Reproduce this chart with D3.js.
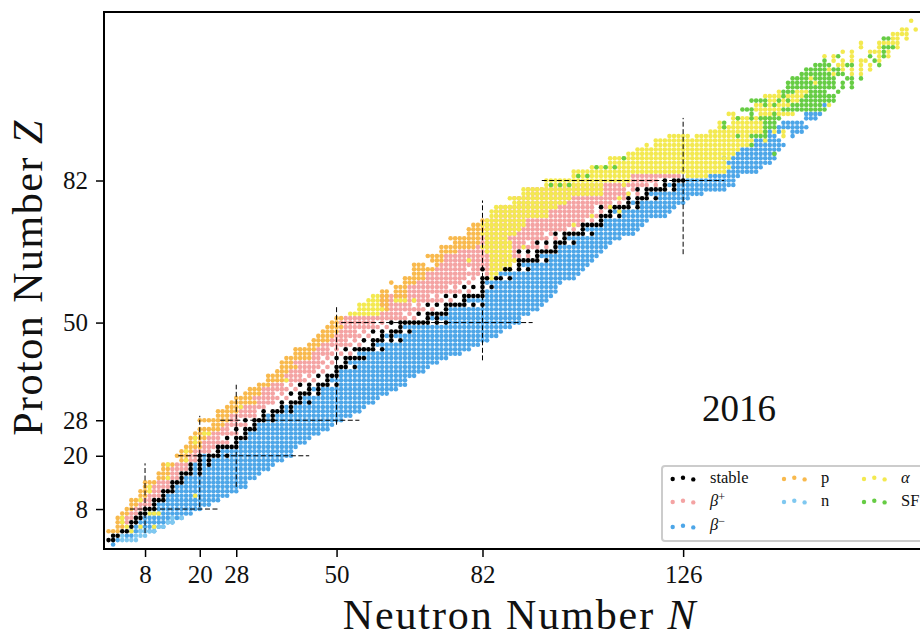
<!DOCTYPE html>
<html>
<head>
<meta charset="utf-8">
<script src="https://cdn.jsdelivr.net/npm/d3@7"></script>
<style>
body{margin:0;background:#fff;overflow:hidden}
svg{display:block}
text{font-family:"Liberation Serif",serif;fill:#111}
</style>
</head>
<body>
<div id="chart"></div>
<script>
// every run is [Z, first N, last N]
const stableCells=[[1,[0,1]],[2,[1,2]],[3,[3,4]],[4,[5]],[5,[5,6]],[6,[6,7]],[7,[7,8]],[8,[8,9,10]],[9,[10]],[10,[10,11,12]],
[11,[12]],[12,[12,13,14]],[13,[14]],[14,[14,15,16]],[15,[16]],[16,[16,17,18,20]],[17,[18,20]],[18,[18,20,22]],[19,[20,22]],[20,[20,22,23,24,26]],
[21,[24]],[22,[24,25,26,27,28]],[23,[28]],[24,[26,28,29,30]],[25,[30]],[26,[28,30,31,32]],[27,[32]],[28,[30,32,33,34,36]],[29,[34,36]],[30,[34,36,37,38,40]],
[31,[38,40]],[32,[38,40,41,42,44]],[33,[42]],[34,[40,42,43,44,46]],[35,[44,46]],[36,[42,44,46,47,48,50]],[37,[48]],[38,[46,48,49,50]],[39,[50]],[40,[50,51,52,54]],
[41,[52]],[42,[50,52,53,54,55,56]],[44,[52,54,55,56,57,58,60]],[45,[58]],[46,[56,58,59,60,62,64]],[47,[60,62]],[48,[58,60,62,63,64,66]],[49,[64]],[50,[62,64,65,66,67,68,69,70,72,74]],
[51,[70,72]],[52,[68,70,71,72,73,74]],[53,[74]],[54,[70,72,74,75,76,77,78,80,82]],[55,[78]],[56,[74,76,78,79,80,81,82]],[57,[82]],[58,[78,80,82,84]],[59,[82]],[60,[82,83,85,86,88]],
[62,[82,87,88,90,92]],[63,[90]],[64,[90,91,92,93,94,96]],[65,[94]],[66,[90,92,94,95,96,97,98]],[67,[98]],[68,[94,96,98,99,100,102]],[69,[100]],[70,[98,100,101,102,103,104,106]],
[71,[104]],[72,[104,105,106,107,108]],[73,[108]],[74,[108,109,110,112]],[75,[110]],[76,[108,111,112,113,114,116]],[77,[114,116]],[78,[114,116,117,118,120]],[79,[118]],[80,[116,118,119,120,121,122,124]],
[81,[122,124]],[82,[122,124,125,126]]];

const betaMinusRuns=[[0,1,1],[1,2,2],[2,4,5],[3,5,10],[4,6,12],[5,7,14],[6,8,16],[7,9,18],[8,11,20],[9,11,22],[10,13,24],
[11,13,26],[12,15,28],[13,15,30],[14,17,30],[15,17,32],[16,19,19],[16,21,33],[17,19,19],[17,21,35],[18,19,19],[18,21,21],[18,23,36],[19,21,21],[19,23,38],[20,21,21],[20,25,25],[20,27,40],
[21,25,40],[22,29,41],[23,29,43],[24,31,44],[25,31,46],[26,33,48],[27,33,49],[28,35,35],[28,37,51],[29,35,35],[29,37,53],[30,39,39],[30,41,55],
[31,39,39],[31,41,56],[32,43,58],[33,43,59],[34,47,61],[35,45,45],[35,47,63],[36,51,65],[37,49,65],[38,51,67],[39,51,69],[40,55,70],
[41,53,72],[42,57,74],[43,55,77],[44,61,79],[45,59,81],[46,65,83],[47,61,61],[47,63,85],[48,67,86],[49,65,88],[50,75,90],
[51,71,71],[51,73,90],[52,75,92],[53,75,94],[54,83,95],[55,79,96],[56,83,97],[57,83,98],[58,85,98],[59,83,99],[60,89,102],
[61,86,103],[62,93,104],[63,91,105],[64,97,106],[65,95,107],[66,99,108],[67,99,109],[68,103,110],[69,101,112],[70,107,115],
[71,105,116],[72,109,117],[73,109,118],[74,113,122],[75,111,123],[76,117,124],[77,115,115],[77,117,126],[78,121,127],[79,119,130],[80,125,135],
[81,123,123],[81,125,137],[82,127,137],[83,132,138],[84,136,142],[85,137,143],[86,136,145],[87,135,135],[87,137,146],[88,138,146],[89,139,147],[90,142,148],
[91,142,147],[92,145,146],[92,150,150],[93,145,145],[93,147,147],[93,150,152],[94,147,153],[95,148,152],[96,153,155],[97,153,156],[99,157,157]];

const betaPlusRuns=[[5,4,4],[6,4,5],[7,5,6],[8,6,7],[9,7,9],[10,8,9],[11,9,11],[12,10,11],[13,10,13],[14,11,13],[15,13,15],[16,14,15],[17,14,17],[18,15,17],[19,18,19],[20,18,19],
[21,19,22],[22,21,23],[23,21,26],[24,22,24],[25,22,28],[26,25,26],[27,26,30],[28,27,28],[29,27,32],[30,29,32],
[31,29,36],[32,33,36],[33,32,40],[34,34,38],[35,34,42],[36,36,40],[37,39,46],[38,39,44],[39,40,48],[40,42,48],
[41,41,50],[42,45,48],[43,45,53],[44,46,50],[45,47,56],[46,49,54],[47,50,58],[48,51,56],[49,52,62],[50,51,60],
[51,52,68],[52,60,66],[53,61,72],[54,60,68],[55,60,76],[56,60,72],[57,66,80],[58,66,76],[59,68,80],[60,70,80],
[61,70,84],[62,72,86],[63,73,89],[64,74,89],[65,74,93],[66,77,89],[67,81,97],[68,82,93],[69,82,99],[70,82,97],
[71,83,103],[72,82,103],[73,83,107],[74,85,107],[75,85,109],[76,86,107],[76,109,110],[77,90,113],[78,89,113],[79,92,117],[80,92,115],
[81,97,121],[82,115,120],[83,115,125]];

const protonRuns=[[3,0,2],[4,2,3],[5,2,3],[6,2,3],[7,3,4],[8,4,5],[9,5,6],[10,5,7],[11,7,8],[12,7,9],[13,8,9],[14,8,10],[15,11,12],[16,11,13],[17,12,13],[18,12,14],[19,16,17],[20,15,17],
[21,16,18],[22,17,20],[23,18,20],[24,18,21],[25,19,21],[26,20,24],[27,23,25],[28,20,26],[29,24,26],[30,24,28],
[31,26,28],[32,27,32],[33,28,31],[34,30,33],[35,31,33],[36,33,35],[37,35,38],[38,35,38],[39,37,39],[40,38,41],
[41,38,40],[42,39,44],[43,41,44],[44,41,45],[45,44,46],[46,45,48],[47,46,49],[48,47,50],[49,48,51],[50,49,50],
[51,50,51],[53,60,61],[54,60,61],[55,60,61],[56,60,61],[56,63,65],[57,60,61],[57,63,65],[58,63,65],[59,62,62],[59,65,67],[60,65,69],
[61,67,69],[62,67,71],[63,67,69],[63,72,72],[64,71,73],[65,70,73],[66,73,76],[67,73,80],[68,76,81],[69,75,81],[70,79,81],[71,79,82],[72,80,81],[73,82,82]];

const neutronRuns=[[1,3,6],[2,3,3],[2,6,8],[3,7,10],[4,11,12],[5,13,14],[6,14,14],[6,16,16]];

const alphaRuns=[[3,5,5],[4,4,4],[4,7,7],[4,10,10],[5,3,3],[6,3,3],[7,9,11],[10,7,7],[11,19,19],[12,9,9],[13,9,9],[15,13,13],[18,13,13],[19,17,17],[21,17,17],[23,19,19],[24,19,19],[25,21,22],[31,29,29],[37,39,39],
[52,53,59],[53,55,60],[54,55,59],[55,57,59],[55,63,65],[55,67,67],[56,58,59],[64,79,79],
[60,84,84],[61,84,85],[62,84,88],[63,84,88],[64,84,89],[65,84,88],[66,83,88],[67,82,88],[68,83,88],[69,83,87],[70,82,89],
[71,83,90],[72,82,91],[73,83,91],[74,84,95],[75,84,96],[76,85,98],[77,89,100],[78,88,101],[79,91,108],[80,91,108],
[81,96,108],[82,96,114],[83,102,114],[83,127,131],[84,102,135],[85,106,136],[86,110,135],[87,110,136],[88,114,137],[89,116,138],[90,118,118],[90,120,141],
[91,120,141],[91,144,144],[92,123,127],[92,129,137],[92,139,140],[92,148,148],[93,132,144],[93,146,146],[93,148,148],[94,134,143],[95,134,134],[95,137,143],[96,137,145],[97,136,137],[97,143,150],
[98,142,147],[99,142,149],[99,158,158],[100,145,151],[101,144,152],[102,147,147],[102,151,153],[104,155,155],[105,154,154],[106,159,159],[106,163,163],[106,165,165],
[107,158,158],[107,161,161],[107,163,163],[107,165,165],[107,167,167],[108,160,161],[108,165,165],[108,167,167],[109,159,159],[109,161,161],[109,163,163],[109,165,166],[109,169,169],
[110,157,157],[110,159,159],[110,163,163],[110,169,169],[110,171,171],[111,161,161],[111,163,163],[111,167,169],[111,171,171],[112,165,165],[112,169,169],[112,173,173],
[113,165,165],[113,169,173],[114,172,173],[114,175,175],[115,172,175],[116,174,175],[116,177,177],[118,176,176],
[64,88,88],[67,91,91],[72,102,102],[74,96,96],[74,106,106],[75,112,112],[76,110,110],[78,112,112],[79,114,114],[81,113,113]];

const fissionRuns=[[81,97,97],[81,99,99],[81,101,101],[83,103,103],[83,105,105],[85,107,107],[85,109,109],[85,111,111],[87,113,113],
[88,146,146],[90,141,141],[92,138,138],[92,141,144],[93,144,144],[94,135,135],[94,144,146],[95,135,135],[95,144,146],[96,138,138],[96,141,141],[96,143,147],[97,141,141],[97,146,146],
[98,139,141],[98,148,157],[99,144,144],[99,146,146],[99,150,156],[100,141,144],[100,147,147],[100,149,149],[100,152,159],[101,148,148],[101,153,159],
[102,148,150],[102,154,157],[102,160,160],[103,149,159],[103,161,161],[103,163,163],[104,149,154],[104,156,159],[104,161,161],[104,163,163],[105,150,153],[105,155,159],[105,162,163],[105,165,165],
[106,152,158],[106,160,161],[107,153,157],[107,159,160],[108,155,158],[108,162,163],[108,169,169],[109,157,157],[109,168,168],[110,160,160],[110,167,167],[110,170,170],[111,170,170],[112,170,172],[114,170,171]];

// nuclides on the proton rich side that are not shown
const hiddenCells=[[31,35],[31,36],[33,38],[33,40],[34,37],[35,40],[35,42],[36,39],[37,44],[37,46],[38,43],[39,46],[39,48],[40,47],[41,48],[41,50],[42,47],[43,50],[43,52],[44,49],[45,54],[45,56],[46,53],[47,56],[47,58],[48,55],[49,60],[49,62],[50,59],
[51,66],[51,68],[52,65],[53,70],[53,72],[54,67],[55,74],[55,76],[56,71],[57,78],[57,80],[58,75],[59,78],[59,80],[60,79],[61,82],[61,84],[62,79],[63,87],[63,89],[64,88],[65,91],[65,93],[66,88],[67,95],[67,97],[68,92],[69,97],[69,99],[70,96],
[71,101],[71,103],[72,102],[73,105],[73,107],[74,106],[75,107],[75,109],[76,107],[77,111],[77,113],[78,112],[79,115],[79,117],[80,114],[81,119],[81,121]];

const magicTicks=[8,20,28,50,82,126];
const magicZTicks=[8,20,28,50,82];
// [magic number, from, to] read along the other axis
const magicNLines=[[8,2.6,18.3],[20,8.4,29],[28,13,36],[50,27,53.5],[82,41.5,77.5],[126,65.4,96.1]];
const magicZLines=[[8,4.7,24],[20,15.3,44],[28,24.5,55],[50,51,93],[82,95,135]];

const yearLabel="2016";
const legendNames=["stable","β","β","p","n","α","SF"];

const W=920,H=632;
const svg=d3.select("#chart").append("svg").attr("width",W).attr("height",H);
const x=d3.scaleLinear().domain([-1,182]).range([104,938.5]);
const y=d3.scaleLinear().domain([-1,120]).range([549,11.8]);
const R=2.3;

const colors={stable:"#000",bp:"#f4a3a3",bm:"#4da6e8",p:"#f8b94d",n:"#7fc8f0",a:"#f3e950",sf:"#66cc44"};

const hidden=new Set(hiddenCells.map(d=>d[0]+"_"+d[1]));
const expand=runs=>runs.flatMap(([z,a,b])=>d3.range(a,b+1).map(n=>({z,n})));

const dots=(cells,color,cls)=>{
    svg.append("g").attr("class",cls).selectAll("circle").data(cells).enter().append("circle")
        .attr("cx",d=>x(d.n)).attr("cy",d=>y(d.z)).attr("r",R).attr("fill",color);
};
dots(expand(betaMinusRuns),colors.bm,"bm");
dots(expand(betaPlusRuns).filter(d=>!hidden.has(d.z+"_"+d.n)),colors.bp,"bp");
dots(expand(protonRuns),colors.p,"p");
dots(expand(neutronRuns),colors.n,"n");
dots(expand(alphaRuns),colors.a,"a");
dots(expand(fissionRuns),colors.sf,"sf");
dots(stableCells.flatMap(([z,ns])=>ns.map(n=>({z,n}))),colors.stable,"stable");

const magic=svg.append("g").attr("stroke","#000").attr("stroke-width",1).attr("stroke-dasharray","5 2.5");
magic.selectAll(".mv").data(magicNLines).enter().append("line").attr("class","mv")
    .attr("x1",d=>x(d[0])).attr("x2",d=>x(d[0])).attr("y1",d=>y(d[1])).attr("y2",d=>y(d[2]));
magic.selectAll(".mh").data(magicZLines).enter().append("line").attr("class","mh")
    .attr("y1",d=>y(d[0])).attr("y2",d=>y(d[0])).attr("x1",d=>x(d[1])).attr("x2",d=>x(d[2]));

// frame
svg.append("rect").attr("x",104).attr("y",12).attr("width",834.5).attr("height",537)
    .attr("fill","none").attr("stroke","#000").attr("stroke-width",2);

const xAxis=d3.axisBottom(x).tickValues(magicTicks).tickFormat(d3.format("d")).tickSize(8).tickPadding(8);
const yAxis=d3.axisLeft(y).tickValues(magicZTicks).tickFormat(d3.format("d")).tickSize(8).tickPadding(8);
const gx=svg.append("g").attr("transform","translate(0,549)").call(xAxis);
const gy=svg.append("g").attr("transform","translate(104,0)").call(yAxis);
[gx,gy].forEach(g=>{
    g.select(".domain").remove();
    g.selectAll(".tick line").attr("stroke","#000").attr("stroke-width",1.5);
    g.selectAll(".tick text").attr("font-size",25).attr("fill","#111");
});

const xTitle=svg.append("text").attr("x",520).attr("y",628.5).attr("text-anchor","middle").attr("font-size",42).attr("letter-spacing",1.9);
xTitle.append("tspan").text("Neutron Number ");
xTitle.append("tspan").attr("font-style","italic").text("N");
const yTitle=svg.append("text").attr("transform","translate(42,277.5) rotate(-90)").attr("text-anchor","middle").attr("font-size",42).attr("letter-spacing",1.5);
yTitle.append("tspan").text("Proton Number ");
yTitle.append("tspan").attr("font-style","italic").text("Z");

svg.append("text").attr("x",702).attr("y",421).attr("font-size",37).text(yearLabel);

// legend
const legend=svg.append("g");
legend.append("rect").attr("x",662).attr("y",466).attr("width",300).attr("height",75).attr("rx",3)
    .attr("fill","#fff").attr("stroke","#ccc").attr("stroke-width",2);
const legendItems=[
    {c:colors.stable,mx:672.7,my:479,tx:710,ty:483},
    {c:colors.bp,mx:672.7,my:502,tx:710,ty:506,sup:"+"},
    {c:colors.bm,mx:672.7,my:527,tx:710,ty:530,sup:"−"},
    {c:colors.p,mx:784,my:479,tx:821,ty:483},
    {c:colors.n,mx:784,my:502,tx:821,ty:506},
    {c:colors.a,mx:864,my:479,tx:901,ty:483},
    {c:colors.sf,mx:864,my:502,tx:901,ty:506}
];
legendItems.forEach((d,i)=>{
    [0,10.3,20.6].forEach((dx,j)=>{
        legend.append("circle").attr("cx",d.mx+dx).attr("cy",d.my+[0,-1.3,0.4][j]).attr("r",2.2).attr("fill",d.c);
    });
    const name=legendNames[i];
    const t=legend.append("text").attr("x",d.tx).attr("y",d.ty).attr("font-size",16.5);
    if(name==="β"||name==="α") t.append("tspan").attr("font-style","italic").text(name); else t.text(name);
    if(d.sup) t.append("tspan").attr("dy",-5).attr("font-size",12).text(d.sup);
});
</script>
</body>
</html>
